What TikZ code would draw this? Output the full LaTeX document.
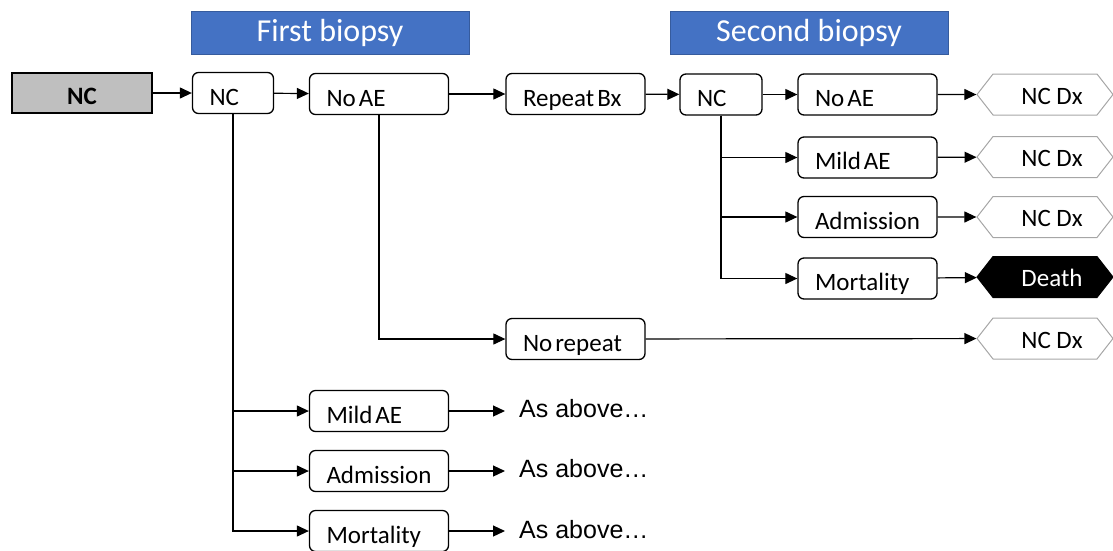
\documentclass[tikz,border=0pt]{standalone}
\usepackage{fontspec}
\setmainfont{Carlito}
\newfontfamily\arialfont{Liberation Sans}
\usetikzlibrary{arrows.meta,shapes.symbols}
\definecolor{hdrblue}{HTML}{4472C4}
\definecolor{startgray}{HTML}{BFBFBF}
\def\boxfont{\fontsize{25}{30}\selectfont}
\tikzset{
	box/.style={draw, line width=1.3pt, rounded corners=6pt, minimum height=41pt, inner xsep=17pt, inner ysep=0pt, text width=#1, align=left, text height=26pt, text depth=2pt, font=\boxfont, execute at begin node={\spaceskip=0.12em\relax}},
	box/.default=105pt,
	startbox/.style={draw, line width=1.3pt, fill=startgray, minimum width=140pt, minimum height=40pt, inner ysep=0pt, text height=24pt, text depth=2pt, font=\boxfont\bfseries},
	hexa/.style={signal, signal to=west and east, signal pointer angle=104, draw=black!35, line width=1pt, minimum width=136pt, minimum height=41pt, inner sep=0pt, text height=21pt, text depth=2pt, font=\boxfont, execute at begin node={\hspace*{14pt}}},
	header/.style={fill=hdrblue, draw=hdrblue!80!black, minimum width=278pt, minimum height=43pt, text=white, font=\fontsize{32}{38}\selectfont},
	note/.style={anchor=west, inner xsep=14pt, font=\arialfont\fontsize{25}{30}\selectfont},
	link/.style={line width=1.2pt, -{Triangle[length=12pt,width=11pt]}},
}

\begin{document}
\begin{tikzpicture}[x=1pt, y=-1pt]
	%%%%% START %%%%%
	\useasboundingbox (0, 0) rectangle (1113, 550);

	\node[header] (first) at (330, 32.5) {First biopsy};
	\node[header] (second) at (809, 32.5) {Second biopsy};

	\node[startbox] (start) at (82, 93) {NC};
	\node[box=47pt] (nc1) at (233, 93) {NC};
	\node[box] (noae1) at (379, 94) {No AE};
	\node[box] (repeat) at (575.5, 94) {Repeat Bx};
	\node[box=48pt] (nc2) at (721, 94.5) {NC};

	\node[box] (noae2) at (867.5, 94.5) {No AE};
	\node[box] (mild2) at (867.5, 157.5) {Mild AE};
	\node[box] (adm2) at (867.5, 217) {Admission};
	\node[box] (mort2) at (867.5, 278.5) {Mortality};

	\node[hexa] (dx1) at (1045, 94.5) {NC Dx};
	\node[hexa] (dx2) at (1045, 157) {NC Dx};
	\node[hexa] (dx3) at (1045, 217) {NC Dx};
	\node[hexa, fill=black, draw=black, text=white] (death) at (1045, 277) {Death};

	\node[box] (norep) at (575.5, 339) {No repeat};
	\node[hexa] (dx4) at (1045, 338.5) {NC Dx};

	\node[box] (mild1) at (379, 411) {Mild AE};
	\node[box] (adm1) at (379, 471) {Admission};
	\node[box] (mort1) at (379, 531) {Mortality};

	\node[note] (same1) at (505, 409) {As above…};
	\node[note] (same2) at (505, 469) {As above…};
	\node[note] (same3) at (505, 530) {As above…};

	% main row
	\draw[link] (start) -- (nc1);
	\draw[link] (nc1) -- (noae1);
	\draw[link] (noae1) -- (repeat);
	\draw[link] (repeat) -- (nc2);
	\draw[link] (nc2) -- (noae2);

	% second biopsy branches
	\draw[link] (nc2.south) |- (mild2.west);
	\draw[link] (nc2.south) |- (adm2.west);
	\draw[link] (nc2.south) |- (mort2.west);
	\draw[link] (noae2) -- (dx1);
	\draw[link] (mild2) -- (dx2);
	\draw[link] (adm2) -- (dx3);
	\draw[link] (mort2) -- (death);

	% no repeat
	\draw[link] (noae1.south) |- (norep.west);
	\draw[link] (norep) -- (dx4);

	% first biopsy branches
	\draw[link] (nc1.south) |- (mild1.west);
	\draw[link] (nc1.south) |- (adm1.west);
	\draw[link] (nc1.south) |- (mort1.west);
	\draw[link] (mild1.east) -- (mild1.east -| same1.west);
	\draw[link] (adm1.east) -- (adm1.east -| same2.west);
	\draw[link] (mort1.east) -- (mort1.east -| same3.west);
	%%%%% END %%%%%
\end{tikzpicture}
\end{document}
